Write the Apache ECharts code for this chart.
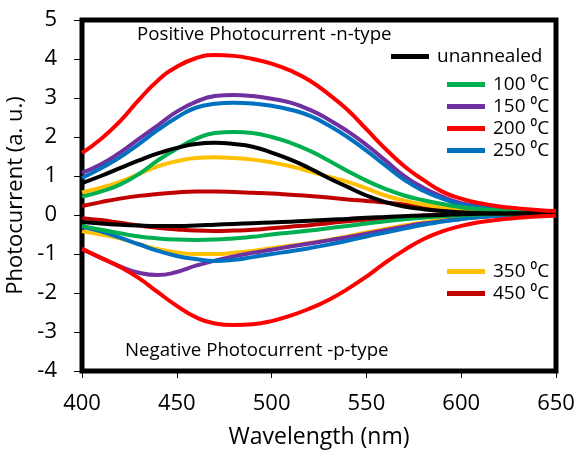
<!DOCTYPE html>
<html>
<head>
<meta charset="utf-8">
<script src="https://cdn.jsdelivr.net/npm/echarts@6/dist/echarts.min.js"></script>
<style>
  html, body { margin: 0; padding: 0; background: #fff; }
  #chart { width: 575px; height: 452px; }
</style>
</head>
<body>
<div id="chart"></div>
<script>
const wavelengths = [400, 410, 420, 430, 440, 450, 460, 470, 480, 490, 500, 510, 520,
  530, 540, 550, 560, 570, 580, 590, 600, 610, 620, 630, 640, 650];

// positive (n-type) branches
const unannealedPos = [0.82, 1.0, 1.2, 1.4, 1.58, 1.72, 1.82, 1.85, 1.82, 1.75, 1.6, 1.42, 1.2,
  0.95, 0.72, 0.5, 0.33, 0.22, 0.15, 0.1, 0.07, 0.05, 0.04, 0.04, 0.04, 0.03];
const t100Pos = [0.47, 0.6, 0.78, 1.05, 1.4, 1.7, 1.95, 2.1, 2.13, 2.1, 2.0, 1.85, 1.65,
  1.4, 1.13, 0.88, 0.67, 0.5, 0.38, 0.28, 0.2, 0.15, 0.12, 0.1, 0.08, 0.07];
const t150Pos = [1.08, 1.3, 1.6, 1.95, 2.3, 2.65, 2.9, 3.05, 3.08, 3.05, 2.98, 2.88, 2.7,
  2.45, 2.15, 1.8, 1.4, 1.0, 0.7, 0.47, 0.3, 0.22, 0.16, 0.12, 0.1, 0.08];
const t200Pos = [1.59, 1.95, 2.4, 2.95, 3.45, 3.8, 4.02, 4.1, 4.08, 4.0, 3.88, 3.7, 3.45,
  3.1, 2.7, 2.2, 1.7, 1.25, 0.9, 0.6, 0.42, 0.3, 0.22, 0.17, 0.13, 0.1];
const t250Pos = [0.95, 1.2, 1.48, 1.82, 2.18, 2.5, 2.75, 2.85, 2.88, 2.86, 2.8, 2.7, 2.55,
  2.3, 2.0, 1.65, 1.27, 0.9, 0.62, 0.42, 0.27, 0.2, 0.15, 0.11, 0.09, 0.07];
const t350Pos = [0.58, 0.7, 0.85, 1.05, 1.25, 1.38, 1.46, 1.48, 1.46, 1.42, 1.35, 1.25, 1.12,
  0.98, 0.85, 0.68, 0.5, 0.37, 0.27, 0.2, 0.15, 0.12, 0.1, 0.08, 0.07, 0.06];
const t450Pos = [0.23, 0.33, 0.42, 0.49, 0.54, 0.58, 0.6, 0.6, 0.59, 0.57, 0.55, 0.52, 0.49,
  0.45, 0.4, 0.36, 0.32, 0.27, 0.2, 0.16, 0.13, 0.11, 0.1, 0.09, 0.08, 0.07];

// negative (p-type) branches
const unannealedNeg = [-0.18, -0.22, -0.25, -0.27, -0.28, -0.28, -0.27, -0.25, -0.23, -0.21, -0.19, -0.17, -0.15,
  -0.12, -0.1, -0.07, -0.05, -0.03, -0.01, 0.0, 0.02, 0.03, 0.04, 0.04, 0.05, 0.05];
const t100Neg = [-0.28, -0.38, -0.47, -0.55, -0.6, -0.63, -0.64, -0.63, -0.6, -0.56, -0.5, -0.45, -0.4,
  -0.34, -0.28, -0.22, -0.16, -0.11, -0.07, -0.03, -0.01, 0.01, 0.02, 0.03, 0.04, 0.04];
const t150Neg = [-0.87, -1.1, -1.32, -1.48, -1.54, -1.46, -1.3, -1.17, -1.06, -0.97, -0.89, -0.81, -0.73,
  -0.65, -0.57, -0.48, -0.39, -0.3, -0.22, -0.16, -0.1, -0.05, -0.02, 0.0, 0.01, 0.02];
const t200Neg = [-0.87, -1.1, -1.33, -1.62, -1.98, -2.33, -2.62, -2.78, -2.82, -2.8, -2.72, -2.58, -2.4,
  -2.18, -1.9, -1.58, -1.22, -0.9, -0.62, -0.42, -0.28, -0.18, -0.12, -0.07, -0.04, -0.02];
const t250Neg = [-0.3, -0.42, -0.58, -0.75, -0.92, -1.05, -1.13, -1.18, -1.15, -1.08, -1.0, -0.93, -0.85,
  -0.76, -0.66, -0.55, -0.45, -0.35, -0.25, -0.17, -0.1, -0.05, -0.02, 0.0, 0.01, 0.02];
const t350Neg = [-0.42, -0.5, -0.6, -0.75, -0.88, -0.96, -1.0, -1.0, -0.97, -0.92, -0.85, -0.79, -0.72,
  -0.64, -0.55, -0.45, -0.36, -0.27, -0.19, -0.12, -0.06, -0.02, 0.0, 0.02, 0.03, 0.04];
const t450Neg = [-0.08, -0.13, -0.2, -0.27, -0.33, -0.37, -0.4, -0.41, -0.4, -0.38, -0.34, -0.3, -0.26,
  -0.21, -0.16, -0.12, -0.08, -0.04, -0.01, 0.01, 0.03, 0.04, 0.05, 0.05, 0.05, 0.05];

const legendTop = ["unannealed"];
const legendMid = ["100 \u2070C", "150 \u2070C", "200 \u2070C", "250 \u2070C"];
const legendLow = ["350 \u2070C", "450 \u2070C"];

const FONT = "'Open Sans', sans-serif";

const chart = echarts.init(document.getElementById("chart"));

function pair(arr) {
  return arr.map((v, i) => [wavelengths[i], v]);
}

function line(name, color, arr, z) {
  return {
    name: name,
    type: "line",
    data: pair(arr),
    smooth: true,
    showSymbol: false,
    z: z,
    lineStyle: { color: color, width: 4 },
    itemStyle: { color: color },
  };
}

const legendBase = {
  orient: "vertical",
  icon: "rect",
  itemWidth: 38,
  itemHeight: 5,
  itemGap: 3,
  textStyle: { fontFamily: FONT, fontSize: 19, color: "#000", padding: [0, 0, 0, 3] },
};

const option = {
  animation: false,
  grid: {
    left: 82,
    right: 19,
    top: 20,
    bottom: 81,
    outerBoundsMode: "none",
    show: true,
    borderColor: "#000",
    borderWidth: 5,
  },
  legend: [
    Object.assign({}, legendBase, { data: legendTop, left: 386, top: 42 }),
    Object.assign({}, legendBase, { data: legendMid, left: 442, top: 70 }),
    Object.assign({}, legendBase, { data: legendLow, left: 442, top: 257 }),
  ],
  xAxis: {
    type: "value",
    min: 400,
    max: 650,
    interval: 50,
    name: "Wavelength (nm)",
    nameLocation: "middle",
    nameGap: 55,
    nameTextStyle: { fontFamily: FONT, fontSize: 23, color: "#000" },
    axisLine: { show: true, onZero: false, lineStyle: { color: "#000", width: 1 } },
    axisTick: { show: true, length: 7, lineStyle: { color: "#000" } },
    axisLabel: { fontFamily: FONT, fontSize: 22, color: "#000", margin: 22 },
    splitLine: { show: false },
  },
  yAxis: {
    type: "value",
    min: -4,
    max: 5,
    interval: 1,
    name: "Photocurrent (a. u.)",
    nameLocation: "middle",
    nameGap: 45,
    nameTextStyle: { fontFamily: FONT, fontSize: 22, color: "#000" },
    axisLine: { show: true, onZero: false, lineStyle: { color: "#000", width: 1 } },
    axisTick: { show: true, length: 8, lineStyle: { color: "#000" } },
    axisLabel: { fontFamily: FONT, fontSize: 22, color: "#000", margin: 25 },
    splitLine: { show: false },
  },
  graphic: [
    {
      type: "text",
      left: 137,
      top: 25,
      style: { text: "Positive Photocurrent -n-type", fontFamily: FONT, fontSize: 18.7, fill: "#000" },
    },
    {
      type: "text",
      left: 125,
      top: 341,
      style: { text: "Negative Photocurrent -p-type", fontFamily: FONT, fontSize: 18.7, fill: "#000" },
    },
  ],
  series: [
    line("450 \u2070C", "#C00000", t450Pos, 2),
    line("450 \u2070C", "#C00000", t450Neg, 2),
    line("350 \u2070C", "#FFC000", t350Pos, 3),
    line("350 \u2070C", "#FFC000", t350Neg, 3),
    line("250 \u2070C", "#0070C0", t250Pos, 4),
    line("250 \u2070C", "#0070C0", t250Neg, 4),
    line("150 \u2070C", "#7030A0", t150Pos, 3),
    line("150 \u2070C", "#7030A0", t150Neg, 3),
    line("100 \u2070C", "#00B050", t100Pos, 5),
    line("100 \u2070C", "#00B050", t100Neg, 5),
    line("unannealed", "#000000", unannealedPos, 6),
    line("unannealed", "#000000", unannealedNeg, 6),
    line("200 \u2070C", "#FF0000", t200Pos, 7),
    line("200 \u2070C", "#FF0000", t200Neg, 7),
  ],
};

chart.setOption(option);
</script>
</body>
</html>
